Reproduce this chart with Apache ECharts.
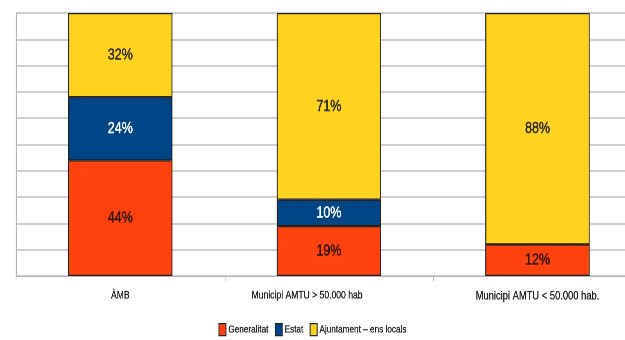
<!DOCTYPE html>
<html>
<head>
<meta charset="utf-8">
<script src="https://cdn.jsdelivr.net/npm/echarts@6/dist/echarts.min.js"></script>
<style>
  html, body { margin: 0; padding: 0; background: #fff; overflow: hidden; }
  #wrap { width: 625px; height: 340px; overflow: hidden; }
  /* the chart is laid out wide and compressed horizontally */
  #chart { width: 801px; height: 340px; transform: scaleX(0.7803); transform-origin: 0 0; }
</style>
</head>
<body>
<div id="wrap"><div id="chart"></div></div>
<script>
// Funding shares by administration level (percent)
const categories = ['ÀMB', 'Municipi AMTU > 50.000 hab', 'Municipi AMTU < 50.000 hab.'];
const seriesNames = ['Generalitat', 'Estat', 'Ajuntament – ens locals'];
const generalitat = [44, 19, 12];
const estat = [24, 10, 0];
const ajuntament = [32, 71, 88];

const colors = ['#ff420e', '#004586', '#ffd320'];
const labelColors = ['#2a1608', '#ffffff', '#2b2a0c'];
const FONT = "'Liberation Sans', Arial, sans-serif";

const values = [generalitat, estat, ajuntament];

// axis text style shared by every category, with per-category tweaks
const baseAxisText = {
  fontFamily: FONT, fontSize: 11, color: '#1e1e1e',
  textBorderColor: '#1e1e1e', textBorderWidth: 0.3
};
const categoryLabelStyles = [
  {},
  { padding: [0, 56, 0, 0] },
  { fontSize: 12 }
];
const categoryData = categories.map((name, i) => ({
  value: name,
  textStyle: Object.assign({}, baseAxisText, categoryLabelStyles[i])
}));

const chart = echarts.init(document.getElementById('chart'), null, { renderer: 'canvas', devicePixelRatio: 2 });

chart.setOption({
  animation: false,
  color: colors,
  grid: { left: 20.5, top: 13, width: 802, bottom: 64, outerBoundsMode: 'none', containLabel: false },
  legend: {
    top: 318,
    left: 'center',
    itemWidth: 9,
    itemHeight: 12,
    itemGap: 8,
    icon: 'rect',
    textStyle: {
      fontFamily: FONT, fontSize: 10.5, color: '#262626', padding: [1, 0, 0, -2],
      textBorderColor: '#262626', textBorderWidth: 0.3
    },
    itemStyle: { borderColor: '#222', borderWidth: 1.2 },
    data: seriesNames
  },
  xAxis: {
    type: 'category',
    data: categoryData,
    axisLine: { lineStyle: { color: '#b3b3b3', width: 1 } },
    axisTick: { show: true, length: 5, lineStyle: { color: '#b3b3b3' } },
    axisLabel: Object.assign({ margin: 14, interval: 0 }, baseAxisText)
  },
  yAxis: {
    type: 'value',
    min: 0,
    max: 100,
    interval: 10,
    axisLabel: { show: false },
    axisTick: { show: false },
    axisLine: { show: true, lineStyle: { color: '#b3b3b3', width: 1.5 } },
    splitLine: { lineStyle: { color: '#bdbdbd', width: 1.5 } }
  },
  series: seriesNames.map((name, i) => ({
    name: name,
    type: 'bar',
    stack: 'total',
    barWidth: '50%',
    data: values[i],
    itemStyle: { color: colors[i], borderColor: '#222', borderWidth: 1.2 },
    label: {
      show: true,
      position: 'inside',
      fontFamily: FONT,
      fontSize: 16,
      color: labelColors[i],
      textBorderColor: labelColors[i],
      textBorderWidth: 0.5,
      formatter: p => (p.value ? p.value + '%' : '')
    }
  }))
});
</script>
</body>
</html>
